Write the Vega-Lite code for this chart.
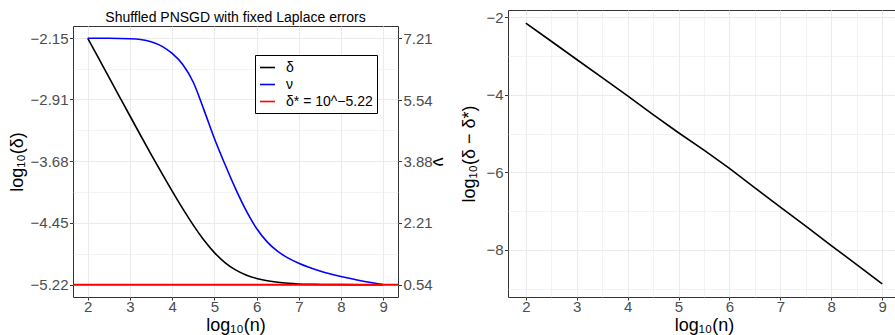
{
  "$schema": "https://vega.github.io/schema/vega-lite/v6.json",
  "padding": {"left": 7, "top": 9, "right": 0, "bottom": 0},
  "spacing": 13,
  "config": {
    "font": "Liberation Sans",
    "view": {"stroke": "#333333", "strokeWidth": 1},
    "axis": {
      "domain": false,
      "gridColor": "#ebebeb",
      "labelColor": "#4d4d4d",
      "labelFontSize": 15,
      "labelFont": "Liberation Sans",
      "titleFont": "Liberation Sans",
      "titleFontSize": 18,
      "titleFontWeight": "normal",
      "titleColor": "black",
      "tickColor": "#333333",
      "tickSize": 3.5,
      "labelPadding": 1.5,
      "labelOverlap": false,
      "labelFlush": false
    },
    "axisX": {"labelPadding": -1, "titlePadding": 2, "tickSize": 3},
    "line": {"strokeWidth": 1.6},
    "title": {"font": "Liberation Sans", "fontSize": 14, "fontWeight": "normal", "color": "black", "anchor": "middle"}
  },
  "datasets": {
    "delta": [
      {"x": 2, "y": -2.15, "series": "δ"},
      {"x": 2.25, "y": -2.392, "series": "δ"},
      {"x": 2.5, "y": -2.634, "series": "δ"},
      {"x": 2.75, "y": -2.876, "series": "δ"},
      {"x": 3, "y": -3.118, "series": "δ"},
      {"x": 3.25, "y": -3.358, "series": "δ"},
      {"x": 3.5, "y": -3.595, "series": "δ"},
      {"x": 3.75, "y": -3.828, "series": "δ"},
      {"x": 4, "y": -4.055, "series": "δ"},
      {"x": 4.25, "y": -4.273, "series": "δ"},
      {"x": 4.5, "y": -4.478, "series": "δ"},
      {"x": 4.75, "y": -4.663, "series": "δ"},
      {"x": 5, "y": -4.82, "series": "δ"},
      {"x": 5.25, "y": -4.944, "series": "δ"},
      {"x": 5.5, "y": -5.036, "series": "δ"},
      {"x": 5.75, "y": -5.099, "series": "δ"},
      {"x": 6, "y": -5.142, "series": "δ"},
      {"x": 6.25, "y": -5.17, "series": "δ"},
      {"x": 6.5, "y": -5.19, "series": "δ"},
      {"x": 6.75, "y": -5.203, "series": "δ"},
      {"x": 7, "y": -5.211, "series": "δ"},
      {"x": 7.5, "y": -5.217, "series": "δ"},
      {"x": 8, "y": -5.219, "series": "δ"},
      {"x": 8.5, "y": -5.22, "series": "δ"},
      {"x": 9, "y": -5.22, "series": "δ"}
    ],
    "nu": [
      {"x": 2, "nu": 7.21, "series": "ν"},
      {"x": 2.5, "nu": 7.21, "series": "ν"},
      {"x": 3, "nu": 7.2, "series": "ν"},
      {"x": 3.25, "nu": 7.18, "series": "ν"},
      {"x": 3.5, "nu": 7.12, "series": "ν"},
      {"x": 3.75, "nu": 7.0, "series": "ν"},
      {"x": 4, "nu": 6.8, "series": "ν"},
      {"x": 4.25, "nu": 6.5, "series": "ν"},
      {"x": 4.5, "nu": 6.02, "series": "ν"},
      {"x": 4.75, "nu": 5.28, "series": "ν"},
      {"x": 5, "nu": 4.5, "series": "ν"},
      {"x": 5.25, "nu": 3.8, "series": "ν"},
      {"x": 5.5, "nu": 3.14, "series": "ν"},
      {"x": 5.75, "nu": 2.55, "series": "ν"},
      {"x": 6, "nu": 2.06, "series": "ν"},
      {"x": 6.25, "nu": 1.7, "series": "ν"},
      {"x": 6.5, "nu": 1.44, "series": "ν"},
      {"x": 6.75, "nu": 1.26, "series": "ν"},
      {"x": 7, "nu": 1.12, "series": "ν"},
      {"x": 7.5, "nu": 0.91, "series": "ν"},
      {"x": 8, "nu": 0.76, "series": "ν"},
      {"x": 8.5, "nu": 0.64, "series": "ν"},
      {"x": 9, "nu": 0.54, "series": "ν"}
    ],
    "star": [
      {"y": -5.22, "series": "δ* = 10^−5.22"}
    ],
    "diff": [
      {"x": 2, "d": -2.15},
      {"x": 2.5, "d": -2.62},
      {"x": 3, "d": -3.09},
      {"x": 3.5, "d": -3.56},
      {"x": 4, "d": -4.03},
      {"x": 4.5, "d": -4.51},
      {"x": 5, "d": -4.98},
      {"x": 5.5, "d": -5.43},
      {"x": 6, "d": -5.9},
      {"x": 6.5, "d": -6.4},
      {"x": 7, "d": -6.9},
      {"x": 7.5, "d": -7.39},
      {"x": 8, "d": -7.89},
      {"x": 8.5, "d": -8.38},
      {"x": 9, "d": -8.88}
    ]
  },
  "hconcat": [
    {
      "spacing": 0,
      "vconcat": [
        {
          "width": 325,
          "height": 1,
          "title": {"text": "Shuffled PNSGD with fixed Laplace errors", "orient": "bottom", "offset": 0},
          "view": {"stroke": null},
          "data": {"values": []},
          "mark": "point",
          "encoding": {}
        },
        {
          "width": 325,
          "height": 271,
          "layer": [
            {
              "data": {"name": "delta"},
              "mark": {"type": "line", "interpolate": "monotone", "strokeWidth": 1.6},
              "encoding": {
                "x": {
                  "field": "x", "type": "quantitative",
                  "scale": {"domain": [1.65, 9.35], "nice": false, "zero": false},
                  "axis": {
                    "title": "log₁₀(n)",
                    "values": [2, 2.5, 3, 3.5, 4, 4.5, 5, 5.5, 6, 6.5, 7, 7.5, 8, 8.5, 9],
                    "labelExpr": "datum.value % 1 === 0 ? format(datum.value, 'd') : ''",
                    "tickOpacity": {"condition": {"test": "datum.value % 1 !== 0", "value": 0}, "value": 1},
                    "gridWidth": {"condition": {"test": "datum.value % 1 !== 0", "value": 0.6}, "value": 1.1}
                  }
                },
                "y": {
                  "field": "y", "type": "quantitative",
                  "scale": {"domain": [-5.3735, -1.9965], "nice": false, "zero": false},
                  "axis": {
                    "title": "log₁₀(δ)",
                    "orient": "left",
                    "values": [-2.15, -2.53, -2.91, -3.295, -3.68, -4.065, -4.45, -4.835, -5.22],
                    "labelExpr": "indexof([-2.53, -3.295, -4.065, -4.835], datum.value) >= 0 ? '' : format(datum.value, '.2f')",
                    "tickOpacity": {"condition": {"test": "indexof([-2.53, -3.295, -4.065, -4.835], datum.value) >= 0", "value": 0}, "value": 1},
                    "gridWidth": {"condition": {"test": "indexof([-2.53, -3.295, -4.065, -4.835], datum.value) >= 0", "value": 0.6}, "value": 1.1}
                  }
                },
                "color": {
                  "field": "series", "type": "nominal",
                  "scale": {"domain": ["δ", "ν", "δ* = 10^−5.22"], "range": ["black", "blue", "red"]},
                  "legend": {
                    "orient": "none", "legendX": 182, "legendY": 45,
                    "title": null, "symbolType": "stroke", "symbolStrokeWidth": 2.5, "symbolSize": 225,
                    "labelFontSize": 14, "labelColor": "black", "labelFont": "Liberation Sans",
                    "strokeColor": "black", "fillColor": "white", "padding": 4, "rowPadding": 1, "labelOffset": 10,
                    "direction": "vertical"
                  }
                }
              }
            },
            {
              "data": {"name": "nu"},
              "mark": {"type": "line", "interpolate": "monotone", "strokeWidth": 1.6},
              "encoding": {
                "x": {"field": "x", "type": "quantitative", "scale": {"domain": [1.65, 9.35], "nice": false, "zero": false}},
                "y": {
                  "field": "nu", "type": "quantitative",
                  "scale": {"domain": [0.2065, 7.5435], "nice": false, "zero": false},
                  "axis": {
                    "title": "ν",
                    "orient": "right",
                    "grid": false,
                    "titlePadding": -4,
                    "values": [7.21, 5.54, 3.88, 2.21, 0.54],
                    "format": ".2f"
                  }
                },
                "color": {"field": "series", "type": "nominal"}
              }
            },
            {
              "data": {"name": "star"},
              "mark": {"type": "rule", "strokeWidth": 2},
              "encoding": {
                "y": {
                  "field": "y", "type": "quantitative",
                  "scale": {"domain": [-5.3735, -1.9965], "nice": false, "zero": false},
                  "axis": null
                },
                "color": {"field": "series", "type": "nominal"}
              }
            }
          ],
          "resolve": {"scale": {"y": "independent"}, "axis": {"y": "independent"}}
        }
      ]
    },
    {
      "width": 392,
      "height": 287,
      "data": {"name": "diff"},
      "mark": {"type": "line", "color": "black", "strokeWidth": 1.6},
      "encoding": {
        "x": {
          "field": "x", "type": "quantitative",
          "scale": {"domain": [1.65, 9.35], "nice": false, "zero": false},
          "axis": {
            "title": "log₁₀(n)",
            "values": [2, 2.5, 3, 3.5, 4, 4.5, 5, 5.5, 6, 6.5, 7, 7.5, 8, 8.5, 9],
            "labelExpr": "datum.value % 1 === 0 ? format(datum.value, 'd') : ''",
            "tickOpacity": {"condition": {"test": "datum.value % 1 !== 0", "value": 0}, "value": 1},
            "gridWidth": {"condition": {"test": "datum.value % 1 !== 0", "value": 0.6}, "value": 1.1}
          }
        },
        "y": {
          "field": "d", "type": "quantitative",
          "scale": {"domain": [-9.2165, -1.8135], "nice": false, "zero": false},
          "axis": {
            "title": "log₁₀(δ − δ*)",
            "titlePadding": 7,
            "values": [-2, -3, -4, -5, -6, -7, -8, -9],
            "labelExpr": "datum.value % 2 === 0 ? format(datum.value, 'd') : ''",
            "tickOpacity": {"condition": {"test": "datum.value % 2 !== 0", "value": 0}, "value": 1},
            "gridWidth": {"condition": {"test": "datum.value % 2 !== 0", "value": 0.6}, "value": 1.1}
          }
        }
      }
    }
  ]
}
